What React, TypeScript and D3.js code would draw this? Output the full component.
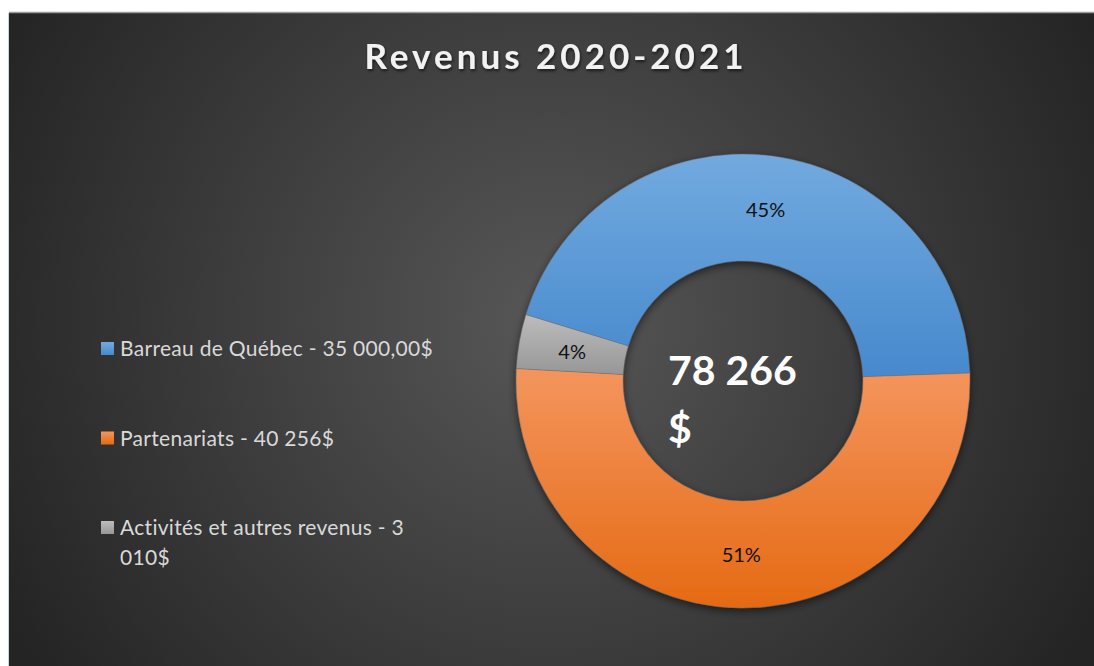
import React from "react";
import * as d3 from "d3";

const categories = ["Barreau de Québec", "Partenariats", "Activités et autres revenus"];
const values = [35000, 40256, 3010];
const legendLabels = [
  ["Barreau de Québec - 35 000,00$"],
  ["Partenariats - 40 256$"],
  ["Activités et autres revenus - 3", "010$"],
];
const totalLabel = ["78 266", "$"];
const title = "Revenus 2020-2021";

const gradients = [
  ["#72aadf", "#4689cd"],
  ["#f4955e", "#e56a13"],
  ["#bcbcbc", "#979797"],
];

const W = 1094;
const H = 666;
const cx = 743;
const cy = 381;
const outerR = 227;
const innerR = 120;
const startDeg = -73;

const App = () => {
  const pie = d3
    .pie<number>()
    .sort(null)
    .startAngle((startDeg * Math.PI) / 180)
    .endAngle(((startDeg + 360) * Math.PI) / 180);
  const arcs = pie(values);
  const arc = d3.arc<d3.PieArcDatum<number>>().innerRadius(innerR).outerRadius(outerR);
  const total = d3.sum(values);
  const pct = (v: number) => `${Math.round((v / total) * 100)}%`;

  const legendY = d3.scalePoint<string>().domain(categories).range([356, 535]);

  return (
    <svg
      width={W}
      height={H}
      style={{ position: "absolute", left: 0, top: 0 }}
      fontFamily="Lato, 'Open Sans', sans-serif"
    >
      <defs>
        <radialGradient id="bg" cx="550" cy="320" r="620" gradientUnits="userSpaceOnUse">
          <stop offset="0" stopColor="#575757" />
          <stop offset="1" stopColor="#242424" />
        </radialGradient>
        {gradients.map((g, i) => (
          <linearGradient key={i} id={`g${i}`} x1="0" y1="0" x2="0" y2="1">
            <stop offset="0" stopColor={g[0]} />
            <stop offset="1" stopColor={g[1]} />
          </linearGradient>
        ))}
        <filter id="shadow" x="-20%" y="-20%" width="140%" height="140%">
          <feDropShadow dx="0" dy="3" stdDeviation="4" floodColor="#000" floodOpacity="0.55" />
        </filter>
        <filter id="tshadow" x="-10%" y="-30%" width="120%" height="160%">
          <feDropShadow dx="1" dy="2" stdDeviation="1.5" floodColor="#000" floodOpacity="0.6" />
        </filter>
      </defs>

      <rect width={W} height={H} fill="#fff" />
      <rect x={9} y={13} width={W - 9} height={H - 13} fill="url(#bg)" />
      <line x1={9} x2={W} y1={12.5} y2={12.5} stroke="#9a9a9a" strokeWidth={1.5} />
      <line x1={8.5} x2={8.5} y1={13} y2={H} stroke="#c9d5e6" strokeWidth={1} />

      <text
        x={556}
        y={69}
        textAnchor="middle"
        fill="#f2f2f2"
        fontSize={35}
        fontWeight="bold"
        letterSpacing={4}
        filter="url(#tshadow)"
      >
        {title}
      </text>

      <g transform={`translate(${cx},${cy})`}>
        <g filter="url(#shadow)">
          {arcs.map((a, i) => (
            <path key={i} d={arc(a) || ""} fill={`url(#g${i})`} stroke="#6a6a6a" strokeWidth={0.4} />
          ))}
        </g>
        {arcs.map((a, i) => {
          const [x, y] = arc.centroid(a);
          return (
            <text
              key={i}
              x={x}
              y={y}
              textAnchor="middle"
              dominantBaseline="central"
              fontSize={20}
              fill="#111"
            >
              {pct(a.data)}
            </text>
          );
        })}
      </g>

      <text x={668} y={385} fill="#fff" fontSize={41} fontWeight="bold">
        {totalLabel[0]}
      </text>
      <text x={668} y={443} fill="#fff" fontSize={41} fontWeight="bold">
        {totalLabel[1]}
      </text>

      {categories.map((c, i) => {
        const y = legendY(c) as number;
        return (
          <g key={c}>
            <rect x={101} y={y - 14} width={13} height={13} fill={`url(#g${i})`} />
            {legendLabels[i].map((line, j) => (
              <text key={j} x={120} y={y + j * 30} fontSize={21} letterSpacing={0.3} fill="#d9d9d9">
                {line}
              </text>
            ))}
          </g>
        );
      })}
    </svg>
  );
};

export default App;
